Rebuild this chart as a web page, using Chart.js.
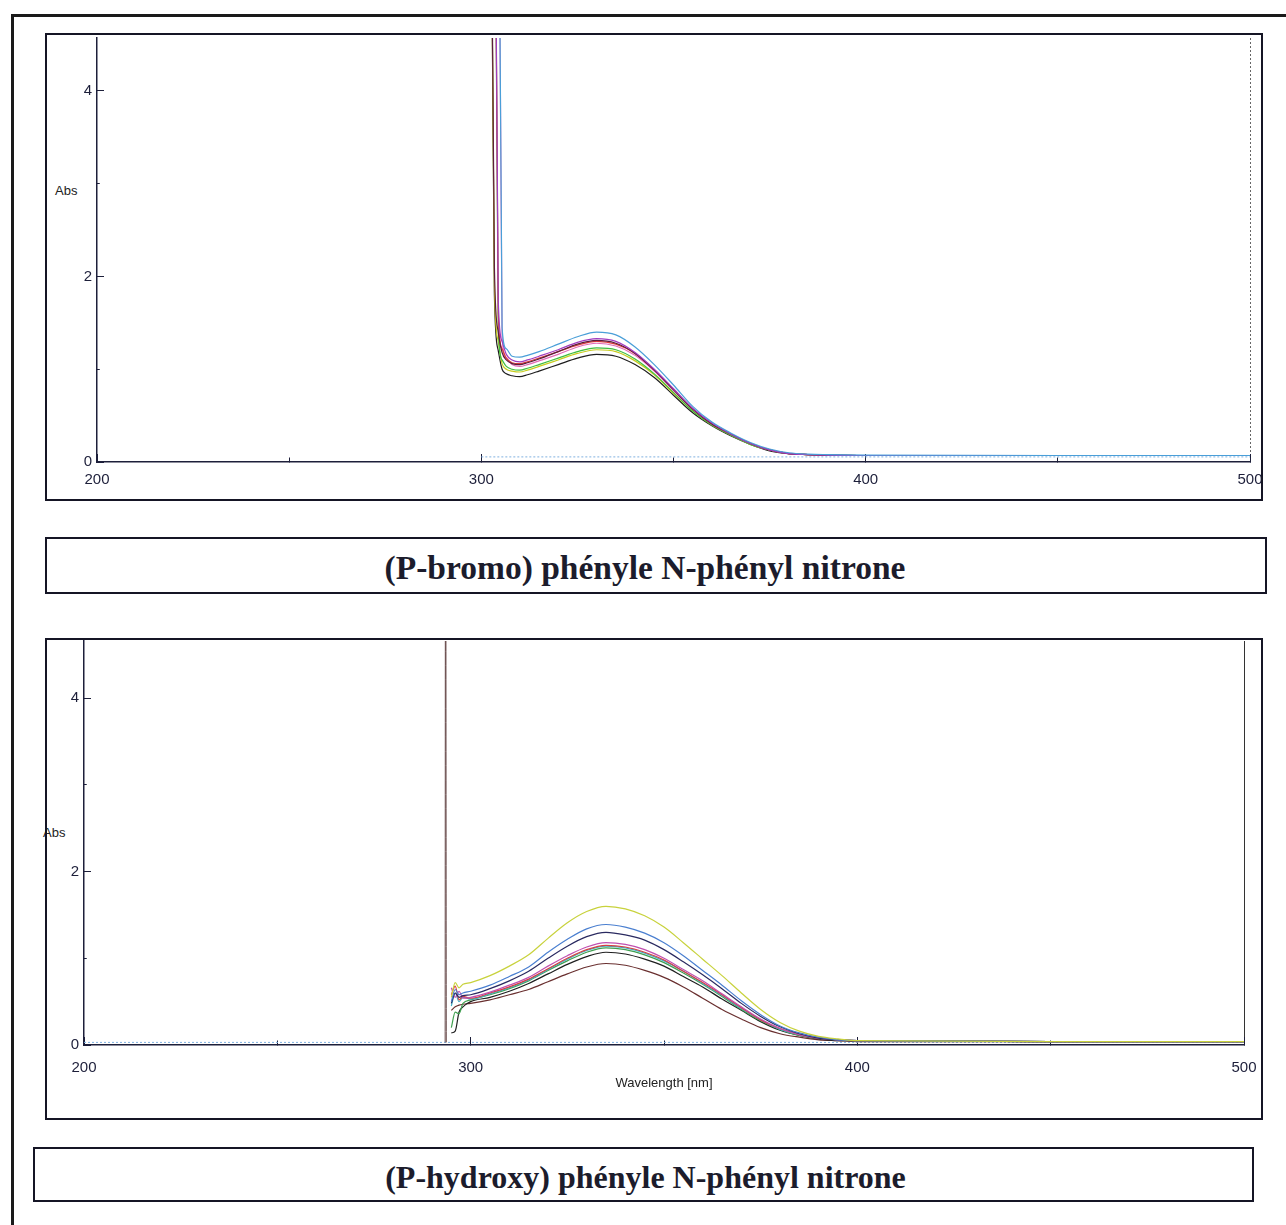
<!DOCTYPE html>
<html>
	<head>
		<meta charset="UTF-8">
		<title>Spectres UV-Vis nitrones</title>
		<script src="https://cdn.jsdelivr.net/npm/chart.js@4.4.1/dist/chart.umd.min.js"></script>
		<style>
			body{margin:0;background:#fff;width:1286px;height:1225px;overflow:hidden;position:relative;font-family:"Liberation Sans",Arial,sans-serif;}
			.frame{position:absolute;left:11px;top:14px;width:1320px;height:1260px;border:3px solid #1a1a1a;box-sizing:border-box;}
			.panel{position:absolute;border:2px solid #151525;box-sizing:border-box;}
			.panel canvas{position:absolute;left:0;top:0;}
			.caption{position:absolute;border:2px solid #151525;box-sizing:border-box;text-align:center;font-family:"Liberation Serif","Times New Roman",serif;font-weight:bold;color:#1c1c2c;}
			.abs{position:absolute;font-size:13px;color:#222;}
		</style>
	</head>
	<body>
		<div class="frame"></div>
		<div class="abs" style="left:55px;top:183px;">Abs</div>
		<div class="panel" style="left:45px;top:33px;width:1218px;height:468px;">
			<canvas id="chart1" width="1214" height="464"></canvas>
		</div>
		<div class="caption" style="left:45px;top:537px;width:1222px;height:57px;line-height:57px;font-size:33.5px;padding-right:22px;">(P-bromo) phényle N-phényl nitrone</div>
		<div class="abs" style="left:43px;top:825px;">Abs</div>
		<div class="panel" style="left:45px;top:638px;width:1218px;height:482px;">
			<canvas id="chart2" width="1214" height="478"></canvas>
		</div>
		<div class="caption" style="left:33px;top:1147px;width:1221px;height:55px;line-height:56px;font-size:32px;padding-left:4px;">(P-hydroxy) phényle N-phényl nitrone</div>
	</body>
	<script>
		// (P-bromo) : longueurs d'onde communes
		var wl1 = [302.3, 303.4, 304.4, 305.4, 306.5, 308, 310, 312, 315, 320, 325, 330, 335, 340, 345, 350, 355, 360, 365, 370, 375, 380, 385, 390, 400, 450, 500];
		var br_cyan   = [null, null, 8, 1.45, 1.22, 1.14, 1.13, 1.15, 1.19, 1.27, 1.35, 1.40, 1.37, 1.24, 1.05, 0.83, 0.60, 0.43, 0.31, 0.21, 0.14, 0.10, 0.085, 0.08, 0.075, 0.07, 0.07];
		var br_purple = [null, 8, 1.75, 1.30, 1.16, 1.10, 1.08, 1.10, 1.14, 1.21, 1.29, 1.33, 1.30, 1.18, 1.00, 0.79, 0.58, 0.42, 0.30, 0.20, 0.13, 0.09, 0.08, 0.075, 0.07, 0.07, 0.07];
		var br_maroon = [8, 2.1, 1.40, 1.18, 1.10, 1.06, 1.05, 1.07, 1.11, 1.19, 1.27, 1.31, 1.28, 1.17, 0.99, 0.78, 0.57, 0.41, 0.30, 0.20, 0.13, 0.09, 0.08, 0.075, 0.07, 0.07, 0.07];
		var br_red    = [null, 8, 1.60, 1.22, 1.12, 1.07, 1.06, 1.08, 1.12, 1.19, 1.26, 1.30, 1.27, 1.17, 0.99, 0.78, 0.57, 0.41, 0.30, 0.20, 0.13, 0.09, 0.08, 0.075, 0.07, 0.07, 0.07];
		var br_pink   = [null, null, 8, 1.35, 1.12, 1.05, 1.03, 1.05, 1.09, 1.16, 1.24, 1.28, 1.25, 1.15, 0.98, 0.77, 0.57, 0.41, 0.30, 0.20, 0.13, 0.09, 0.08, 0.075, 0.07, 0.07, 0.07];
		var br_green  = [null, 8, 1.45, 1.10, 1.03, 1.00, 0.99, 1.01, 1.05, 1.12, 1.19, 1.23, 1.21, 1.11, 0.95, 0.75, 0.55, 0.40, 0.29, 0.19, 0.13, 0.09, 0.08, 0.075, 0.07, 0.07, 0.07];
		var br_yellow = [8, 1.9, 1.30, 1.06, 1.00, 0.98, 0.97, 0.99, 1.03, 1.10, 1.17, 1.21, 1.19, 1.09, 0.94, 0.74, 0.55, 0.40, 0.29, 0.19, 0.13, 0.09, 0.08, 0.075, 0.07, 0.07, 0.07];
		var br_black  = [8, 1.8, 1.20, 1.00, 0.95, 0.93, 0.92, 0.94, 0.98, 1.05, 1.12, 1.16, 1.14, 1.05, 0.91, 0.72, 0.53, 0.39, 0.28, 0.19, 0.12, 0.09, 0.08, 0.075, 0.07, 0.07, 0.07];
		var br_base_x = [300, 500];
		var br_base_y = [0.055, 0.055];

		// (P-hydroxy)
		var wl2 = [295, 296, 297, 298, 300, 305, 310, 315, 320, 325, 330, 335, 340, 345, 350, 355, 360, 365, 370, 375, 380, 385, 390, 395, 400, 450, 500];
		var hy_yellow = [0.55, 0.72, 0.66, 0.70, 0.72, 0.80, 0.91, 1.04, 1.23, 1.41, 1.54, 1.60, 1.57, 1.49, 1.36, 1.18, 0.99, 0.80, 0.60, 0.41, 0.26, 0.16, 0.10, 0.07, 0.05, 0.04, 0.04];
		var hy_blue   = [0.50, 0.64, 0.58, 0.60, 0.62, 0.69, 0.79, 0.90, 1.07, 1.22, 1.34, 1.39, 1.36, 1.29, 1.18, 1.03, 0.86, 0.69, 0.51, 0.35, 0.22, 0.14, 0.09, 0.06, 0.05, 0.04, 0.04];
		var hy_navy   = [0.48, 0.60, 0.55, 0.57, 0.58, 0.65, 0.74, 0.85, 1.00, 1.14, 1.25, 1.30, 1.27, 1.21, 1.10, 0.96, 0.81, 0.65, 0.48, 0.33, 0.21, 0.13, 0.08, 0.06, 0.05, 0.04, 0.04];
		var hy_magenta= [0.66, 0.55, 0.62, 0.54, 0.55, 0.61, 0.69, 0.78, 0.91, 1.03, 1.13, 1.18, 1.16, 1.10, 1.00, 0.87, 0.74, 0.59, 0.44, 0.30, 0.19, 0.12, 0.08, 0.06, 0.05, 0.04, 0.04];
		var hy_red    = [0.58, 0.68, 0.52, 0.56, 0.54, 0.60, 0.67, 0.76, 0.88, 1.00, 1.10, 1.15, 1.13, 1.07, 0.98, 0.85, 0.72, 0.58, 0.43, 0.29, 0.19, 0.12, 0.08, 0.06, 0.05, 0.04, 0.04];
		var hy_cyan   = [0.45, 0.60, 0.50, 0.55, 0.53, 0.59, 0.66, 0.75, 0.87, 0.99, 1.09, 1.14, 1.12, 1.06, 0.97, 0.85, 0.71, 0.57, 0.42, 0.29, 0.18, 0.12, 0.08, 0.06, 0.05, 0.04, 0.04];
		var hy_green  = [0.20, 0.38, 0.36, 0.48, 0.52, 0.58, 0.65, 0.74, 0.86, 0.97, 1.07, 1.12, 1.10, 1.04, 0.95, 0.83, 0.70, 0.56, 0.41, 0.28, 0.18, 0.11, 0.08, 0.06, 0.05, 0.04, 0.04];
		var hy_black  = [0.14, 0.16, 0.38, 0.44, 0.50, 0.55, 0.62, 0.71, 0.82, 0.93, 1.02, 1.07, 1.05, 0.99, 0.91, 0.79, 0.67, 0.53, 0.40, 0.27, 0.17, 0.11, 0.07, 0.05, 0.05, 0.04, 0.04];
		var hy_brown  = [0.40, 0.44, 0.46, 0.47, 0.48, 0.52, 0.58, 0.64, 0.73, 0.82, 0.90, 0.94, 0.92, 0.86, 0.78, 0.67, 0.54, 0.41, 0.30, 0.20, 0.13, 0.09, 0.06, 0.05, 0.04, 0.04, 0.04];
		var hy_spike_x = [293.4, 293.5, 293.7];
		var hy_spike_y = [0.03, 8, 0.03];
		var hy_base_x = [200, 500];
		var hy_base_y = [0.03, 0.03];

		var xTicks = [200, 300, 400, 500];
		var yTicks = [0, 2, 4];

		var axisColor = "#1d1f3a";
		var tickFont = {family: "'Liberation Sans Narrow','Arial Narrow','Liberation Sans',Arial", size: 15};

		function pts(xs, ys){
			var out = [];
			for(var i = 0; i < xs.length; i++){
				if(ys[i] !== null) out.push({x: xs[i], y: ys[i]});
			}
			return out;
		}
		function line(xs, ys, color, dash, width){
			return {data: pts(xs, ys), borderColor: color, borderWidth: width || (dash ? 1 : 1.2), borderDash: dash || [], fill: false};
		}

		function spectrum(id, sets, g){
			return new Chart(document.getElementById(id), {
				type: 'line',
				data: {datasets: sets},
				options: {
					responsive: false, animation: false, devicePixelRatio: 1,
					layout: {autoPadding: false, padding: {left: 0, top: g.top, right: g.right, bottom: 0}},
					plugins: {legend: {display: false}, tooltip: {enabled: false}},
					elements: {point: {radius: 0}, line: {cubicInterpolationMode: 'monotone'}},
					scales: {
						x: {
							type: 'linear', min: 200, max: 500,
							ticks: {stepSize: 50, autoSkip: false, maxRotation: 0, padding: g.xPad, color: axisColor, font: tickFont,
								callback: function(v){ return xTicks.indexOf(v) >= 0 ? v : ''; }},
							grid: {
								color: function(c){ return c.tick && c.tick.value === 500 ? g.edgeColor : 'rgba(0,0,0,0)'; },
								tickLength: -8, tickColor: axisColor, tickWidth: 1,
								tickBorderDash: function(c){ return c.tick && xTicks.indexOf(c.tick.value) < 0 ? [5, 100] : []; }
							},
							border: {color: axisColor, width: 1.5, dash: g.edgeDash},
							title: g.xTitle ? {display: true, text: g.xTitle, color: '#222', font: {family: "'Liberation Sans',Arial", size: 13}, padding: {top: 0, bottom: 27}} : {display: false},
							afterFit: function(s){ s.height = g.xH; s.paddingLeft = 0; s.paddingRight = 0; }
						},
						y: {
							min: 0, max: g.yMax,
							ticks: {stepSize: 1, includeBounds: false, padding: g.yPad, color: axisColor, font: tickFont,
								callback: function(v){ return yTicks.indexOf(v) >= 0 ? v : ''; }},
							grid: {
								drawOnChartArea: false, tickLength: -7, tickColor: axisColor, tickWidth: 1,
								tickBorderDash: function(c){ return c.tick && yTicks.indexOf(c.tick.value) < 0 ? [0, 4.25, 3.5, 100] : []; }
							},
							border: {color: axisColor, width: 1.5},
							afterFit: function(s){ s.width = g.yW; s.paddingTop = 0; s.paddingBottom = 0; }
						}
					}
				}
			});
		}

		spectrum('chart1', [
			line(wl1, br_cyan, '#4a9fd8'),
			line(wl1, br_purple, '#a03cc0'),
			line(wl1, br_maroon, '#5a1e3c'),
			line(wl1, br_red, '#e03a3a'),
			line(wl1, br_pink, '#e26ab8'),
			line(wl1, br_green, '#3fbf3f'),
			line(wl1, br_yellow, '#c8cc1e'),
			line(wl1, br_black, '#1e1e1e'),
			line(br_base_x, br_base_y, '#7fb0e0', [2, 2])
		], {top: 3, right: 11, yW: 50, xH: 37, yMax: 4.57, xPad: 17, yPad: 12, edgeColor: '#666', edgeDash: [2, 2]});

		spectrum('chart2', [
			line(hy_spike_x, hy_spike_y, '#5a3a3a', null, 0.9),
			line(wl2, hy_yellow, '#c8d23c'),
			line(wl2, hy_blue, '#4a7fd0'),
			line(wl2, hy_navy, '#2a2a60'),
			line(wl2, hy_magenta, '#c050b0'),
			line(wl2, hy_red, '#d84040'),
			line(wl2, hy_cyan, '#40b0c8'),
			line(wl2, hy_green, '#40a050'),
			line(wl2, hy_black, '#202020'),
			line(wl2, hy_brown, '#6a3030'),
			line(hy_base_x, hy_base_y, '#7fb0e0', [2, 2])
		], {top: 1, right: 17, yW: 37, xH: 73, yMax: 4.66, xPad: 22, yPad: 12, edgeColor: '#333', edgeDash: [], xTitle: 'Wavelength [nm]'});
	</script>
</html>
